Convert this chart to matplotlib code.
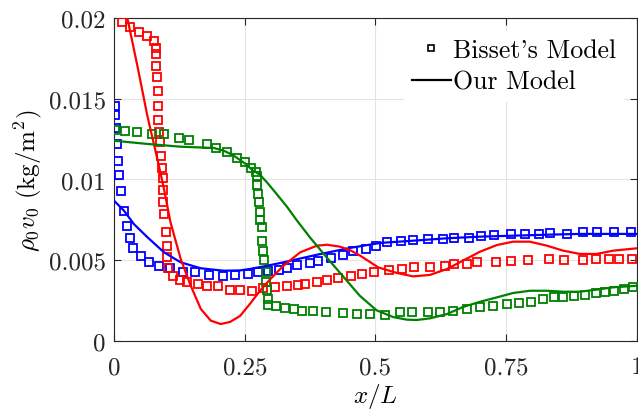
import numpy as np
import matplotlib
matplotlib.use('Agg')
import matplotlib.pyplot as plt
from matplotlib.lines import Line2D

plt.rcParams['font.family'] = 'serif'
plt.rcParams['font.serif'] = ['cmr10']
plt.rcParams['mathtext.fontset'] = 'cm'
plt.rcParams['axes.formatter.use_mathtext'] = True

# Bisset's model (squares)
blue_sq_x = [0.002, 0.002, 0.004, 0.006, 0.008, 0.010, 0.013, 0.019, 0.025, 0.031, 0.036, 0.052,
             0.067, 0.086, 0.107, 0.132, 0.155, 0.182, 0.208, 0.231, 0.256, 0.275, 0.295, 0.315,
             0.331, 0.350, 0.375, 0.390, 0.415, 0.438, 0.457, 0.482, 0.501, 0.522, 0.549, 0.572,
             0.600, 0.629, 0.650, 0.679, 0.702, 0.727, 0.759, 0.786, 0.813, 0.834, 0.866, 0.897,
             0.924, 0.956, 0.989]
blue_sq_y = [0.01455, 0.0140, 0.0132, 0.0122, 0.01115, 0.01028, 0.00929, 0.00805, 0.00712, 0.00638,
             0.00576, 0.00526, 0.00489, 0.00464, 0.00452, 0.00427, 0.00427, 0.00409, 0.00402, 0.00409,
             0.00415, 0.00427, 0.00433, 0.0044, 0.00452, 0.0047, 0.00483, 0.00495, 0.00514, 0.00532,
             0.00557, 0.0057, 0.00588, 0.00613, 0.00619, 0.00625, 0.00632, 0.00632, 0.00638, 0.00638,
             0.0065, 0.00656, 0.00663, 0.00663, 0.00663, 0.00669, 0.00663, 0.00675, 0.00675, 0.00675,
             0.00675]

red_sq_x = [0.0153, 0.031, 0.048, 0.063, 0.0765, 0.080, 0.080, 0.080, 0.082, 0.084, 0.084,
            0.084, 0.086, 0.088, 0.090, 0.092, 0.094, 0.094, 0.094, 0.096, 0.099, 0.101, 0.101,
            0.103, 0.113, 0.126, 0.140, 0.161, 0.178, 0.199, 0.222, 0.241, 0.264, 0.285, 0.308,
            0.331, 0.352, 0.365, 0.388, 0.407, 0.428, 0.453, 0.474, 0.497, 0.526, 0.551, 0.574,
            0.604, 0.633, 0.650, 0.675, 0.694, 0.730, 0.759, 0.792, 0.832, 0.860, 0.897, 0.922,
            0.946, 0.966, 0.990]
red_sq_y = [0.01975, 0.01944, 0.01913, 0.01888, 0.01858, 0.01814, 0.01777, 0.01703, 0.01635,
            0.01548, 0.01455, 0.01368, 0.01294, 0.01232, 0.01145, 0.01071, 0.01009, 0.00935, 0.0086,
            0.00786, 0.00675, 0.00588, 0.0052, 0.00452, 0.00402, 0.00378, 0.00365, 0.00353, 0.0034,
            0.0034, 0.00316, 0.00316, 0.0031, 0.00328, 0.00334, 0.0034, 0.00347, 0.00353, 0.00365,
            0.00378, 0.0039, 0.00402, 0.00415, 0.00427, 0.0044, 0.00446, 0.00458, 0.00458, 0.00464,
            0.00477, 0.00477, 0.00489, 0.00489, 0.00495, 0.00502, 0.00508, 0.00502, 0.00502, 0.00508,
            0.00508, 0.00508, 0.00508]

green_sq_x = [0.002, 0.021, 0.044, 0.073, 0.096, 0.124, 0.143, 0.178, 0.195, 0.216, 0.235, 0.250,
              0.262, 0.272, 0.273, 0.273, 0.275, 0.277, 0.279, 0.279, 0.283, 0.283, 0.285, 0.287,
              0.291, 0.291, 0.293, 0.294, 0.294, 0.310, 0.327, 0.344, 0.359, 0.380, 0.405, 0.438,
              0.465, 0.489, 0.518, 0.547, 0.570, 0.600, 0.623, 0.648, 0.675, 0.700, 0.725, 0.751,
              0.774, 0.797, 0.820, 0.841, 0.859, 0.880, 0.901, 0.922, 0.939, 0.956, 0.975, 0.992]
green_sq_y = [0.01307, 0.0130, 0.01294, 0.01282, 0.01282, 0.01257, 0.01245, 0.0122, 0.01195, 0.0117,
              0.01133, 0.01108, 0.01071, 0.01046, 0.01022, 0.00966, 0.0091, 0.0086, 0.00799, 0.00749,
              0.00706, 0.00619, 0.00557, 0.00502, 0.00427, 0.00365, 0.00316, 0.0026, 0.00223, 0.00217,
              0.00204, 0.00198, 0.00186, 0.00186, 0.0018, 0.00173, 0.00167, 0.00167, 0.00161, 0.0018,
              0.0018, 0.0018, 0.0018, 0.00186, 0.00198, 0.00211, 0.00217, 0.00229, 0.00235, 0.00241,
              0.0026, 0.00272, 0.00272, 0.00279, 0.00285, 0.00297, 0.00303, 0.0031, 0.00322, 0.00334]

# Our model (lines)
blue_ln_x = [0.0, 0.019, 0.038, 0.064, 0.0956, 0.1275, 0.166, 0.210, 0.241, 0.260, 0.293, 0.324,
             0.388, 0.451, 0.509, 0.572, 0.637, 0.700, 0.763, 0.828, 0.891, 1.0]
blue_ln_y = [0.00869, 0.00807, 0.00724, 0.00642, 0.00549, 0.00487, 0.0045, 0.00435, 0.00437, 0.00446,
             0.00466, 0.00487, 0.00534, 0.00576, 0.00607, 0.00621, 0.00636, 0.00646, 0.00652, 0.00658,
             0.00663, 0.00663]

red_ln_x = [0.018, 0.0255, 0.0446, 0.0637, 0.0829, 0.0956, 0.108, 0.1275, 0.1466, 0.166, 0.185,
            0.204, 0.222, 0.241, 0.260, 0.279, 0.298, 0.324, 0.356, 0.388, 0.407, 0.432, 0.451,
            0.470, 0.505, 0.541, 0.572, 0.604, 0.637, 0.667, 0.700, 0.732, 0.763, 0.795, 0.828,
            0.859, 0.891, 0.923, 0.954, 1.0]
red_ln_y = [0.0207, 0.0200, 0.01705, 0.01395, 0.01127, 0.00941, 0.00735, 0.00508, 0.00343, 0.00198,
            0.00126, 0.00105, 0.00118, 0.00155, 0.0023, 0.0031, 0.0038, 0.00466, 0.00549, 0.0059,
            0.00596, 0.00584, 0.00563, 0.0053, 0.00456, 0.00421, 0.0040, 0.00409, 0.00446, 0.00497,
            0.00553, 0.00594, 0.00615, 0.00615, 0.0059, 0.00559, 0.00539, 0.00539, 0.00559, 0.00574]

green_ln_x = [0.0, 0.064, 0.1275, 0.191, 0.210, 0.228, 0.250, 0.266, 0.279, 0.293, 0.311, 0.331,
              0.350, 0.375, 0.406, 0.438, 0.470, 0.502, 0.534, 0.560, 0.579, 0.604, 0.637, 0.667,
              0.700, 0.732, 0.763, 0.795, 0.828, 0.859, 0.891, 0.923, 0.954, 1.0]
green_ln_y = [0.0124, 0.0122, 0.01203, 0.01195, 0.01178, 0.0115, 0.0110, 0.01055, 0.0103, 0.0098,
              0.0091, 0.0083, 0.00745, 0.0064, 0.0052, 0.0040, 0.0028, 0.0019, 0.00148, 0.00132,
              0.0013, 0.0014, 0.00167, 0.0021, 0.00243, 0.0027, 0.00297, 0.00311, 0.00311, 0.00305,
              0.00305, 0.00318, 0.00332, 0.00342]

xticks = [0, 0.25, 0.5, 0.75, 1]
xtick_labels = ['0', '0.25', '0.5', '0.75', '1']
yticks = [0, 0.005, 0.01, 0.015, 0.02]
ytick_labels = ['0', '0.005', '0.01', '0.015', '0.02']

fig = plt.figure(figsize=(6.38, 4.10), dpi=100)
ax = fig.add_axes([0.1787, 0.1659, 0.8197, 0.7878])

cols = ['#0000ff', '#ff0000', '#008000']
sq = [(blue_sq_x, blue_sq_y), (red_sq_x, red_sq_y), (green_sq_x, green_sq_y)]
ln = [(blue_ln_x, blue_ln_y), (red_ln_x, red_ln_y), (green_ln_x, green_ln_y)]
for c, (sx, sy), (lx, ly) in zip(cols, sq, ln):
    ax.plot(sx, sy, 's', mfc='none', mec=c, ms=5.2, mew=1.3, zorder=3)
    ax.plot(lx, ly, '-', color=c, lw=1.6, zorder=4)

ax.set_xlim(0, 1)
ax.set_ylim(0, 0.02)
ax.set_xticks(xticks)
ax.set_xticklabels(xtick_labels)
ax.set_yticks(yticks)
ax.set_yticklabels(ytick_labels)
ax.tick_params(direction='in', length=5, width=0.8, top=True, right=True,
               labelsize=18, colors='0.15')
ax.tick_params(axis='x', pad=11)
ax.tick_params(axis='y', pad=6)
ax.grid(True, color='#e3e3e3', lw=0.8)
ax.set_axisbelow(True)
for s in ax.spines.values():
    s.set_color('0.15')
    s.set_linewidth(0.8)

ax.set_xlabel(r'$x/L$', fontsize=18, labelpad=2)
ax.set_ylabel(r'$\rho_0 v_0\ (\mathrm{kg/m}^2)$', fontsize=18, labelpad=3)

handles = [Line2D([], [], marker='s', ls='none', mfc='none', mec='k', ms=4, mew=1.2),
           Line2D([], [], color='k', lw=1.6)]
leg = ax.legend(handles, ["Bisset's Model", 'Our Model'], loc='upper right', fontsize=18.6,
                frameon=True, fancybox=False, framealpha=1, edgecolor='none',
                handlelength=1.5, handletextpad=0.1, labelspacing=0.3, borderaxespad=0.5,
                borderpad=0.3)

plt.savefig('out.png', dpi=100)
